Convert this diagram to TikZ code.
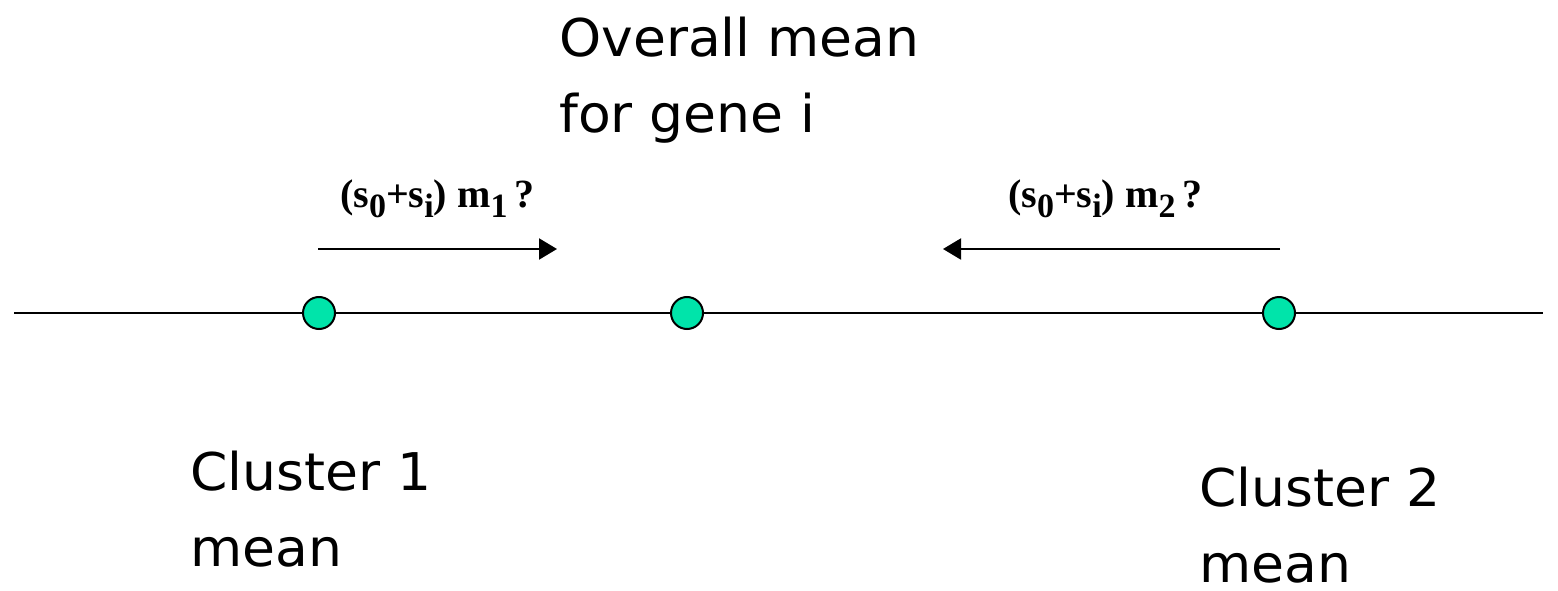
\documentclass[tikz,border=0pt]{standalone}
\usepackage{fontspec}
\setmainfont{DejaVu Sans}
\newfontfamily\bigsans[FakeStretch=1.03]{DejaVu Sans}
\newfontfamily\timesbf{Liberation Serif}
\usetikzlibrary{arrows.meta}
\definecolor{dotgreen}{RGB}{0,228,170}
\newcommand{\lowidx}[1]{\raisebox{-10pt}{\fontsize{34}{34}\selectfont #1}}
\tikzset{
  dot/.style={circle, draw=black, line width=2pt, fill=dotgreen, minimum size=32pt, inner sep=0pt},
  bigtext/.style={anchor=base west, inner sep=0pt, align=left, font=\bigsans\fontsize{52}{76}\selectfont},
  formula/.style={anchor=base west, inner sep=0pt, font=\fontsize{40}{44}\selectfont\timesbf\bfseries},
  axisline/.style={line width=2pt},
  shiftarrow/.style={line width=2pt, -{Triangle[length=18pt,width=21pt]}}
}
\begin{document}
\begin{tikzpicture}[x=1pt,y=-1pt]
\useasboundingbox (0,0) rectangle (1558,591);
\coordinate (L) at (14,313);
\coordinate (R) at (1543,313);
\draw[axisline] (L) -- (R);
\node[dot] (c1) at (319,313) {};
\node[dot] (c0) at (687,313) {};
\node[dot] (c2) at (1279,313) {};
\coordinate (a1s) at (318,249);
\coordinate (a1e) at (557,249);
\coordinate (a2s) at (1280,249);
\coordinate (a2e) at (943,249);
\draw[shiftarrow] (a1s) -- (a1e);
\draw[shiftarrow] (a2s) -- (a2e);
\node[formula] (f1) at (340,207) {(s\lowidx{0}+s\lowidx{i}) m\lowidx{1}\,?};
\node[formula] (f2) at (1008,207) {(s\lowidx{0}+s\lowidx{i}) m\lowidx{2}\,?};
\node[bigtext] (overall) at (559,133) {Overall mean\\for gene i};
\node[bigtext] (cl1) at (190,566) {Cluster 1\\mean};
\node[bigtext] (cl2) at (1199,582) {Cluster 2\\mean};
\end{tikzpicture}
\end{document}
